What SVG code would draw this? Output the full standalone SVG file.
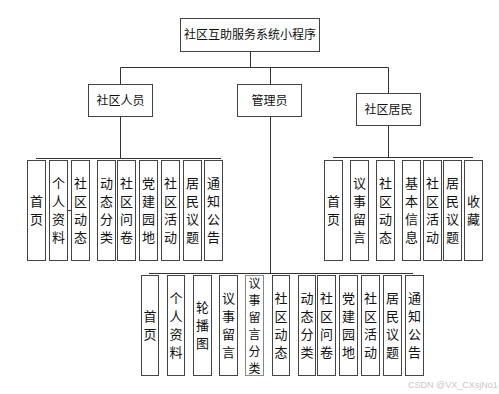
<svg xmlns="http://www.w3.org/2000/svg" width="499" height="394" viewBox="0 0 499 394">
<style>
.bx{fill:#fff;stroke:#444;stroke-width:1}
.ln{fill:none;stroke:#333;stroke-width:1}
.t{font-family:"Noto Sans CJK SC","Liberation Sans",sans-serif;font-size:12px;fill:#111;text-anchor:middle}
.v{font-family:"Noto Sans CJK SC","Liberation Sans",sans-serif;font-size:13px;fill:#111;text-anchor:middle}
.vs{font-family:"Noto Sans CJK SC","Liberation Sans",sans-serif;font-size:12px;fill:#111;text-anchor:middle}
.wm{font-family:"Liberation Sans",sans-serif;font-size:9px;fill:#c8c8c8}
</style>
<rect width="499" height="394" fill="#fff"/>
<g id="connectors">
<path class="ln" d="M250.5 51V67.5M120.5 67.5H388.5M120.5 67.5V84M270.5 67.5V84M388.5 67.5V93"/>
<path class="ln" d="M120.5 116V158.5M36 158.5H221"/>
<path class="ln" d="M388.5 125V157.5M333 157.5H473"/>
<path class="ln" d="M270.5 116V273.5M149 273.5H413"/>
<path class="ln" d="M67 210.5H71"/>
</g>
<g id="root"><rect class="bx" x="180.5" y="18.5" width="139" height="33"/><text class="t" x="250" y="39">社区互助服务系统小程序</text></g>
<g id="staff"><rect class="bx" x="88.5" y="84.5" width="64" height="32"/><text class="t" x="120.5" y="105">社区人员</text></g>
<g id="admin"><rect class="bx" x="237.5" y="84.5" width="64" height="32"/><text class="t" x="269.5" y="105">管理员</text></g>
<g id="resident"><rect class="bx" x="356.5" y="93.5" width="64" height="32"/><text class="t" x="388.5" y="114">社区居民</text></g>

<g id="s1"><rect class="bx" x="27.5" y="160.5" width="18" height="100"/><text class="v"><tspan x="36.5" y="206">首</tspan><tspan x="36.5" y="224">页</tspan></text></g>
<g id="s2"><rect class="bx" x="49.5" y="160.5" width="18" height="100"/><text class="v"><tspan x="58.5" y="188">个</tspan><tspan x="58.5" y="206">人</tspan><tspan x="58.5" y="224">资</tspan><tspan x="58.5" y="242">料</tspan></text></g>
<g id="s3"><rect class="bx" x="71.5" y="160.5" width="18" height="100"/><text class="v"><tspan x="80.5" y="188">社</tspan><tspan x="80.5" y="206">区</tspan><tspan x="80.5" y="224">动</tspan><tspan x="80.5" y="242">态</tspan></text></g>
<g id="s4"><rect class="bx" x="97.5" y="160.5" width="18" height="100"/><text class="v"><tspan x="106.5" y="188">动</tspan><tspan x="106.5" y="206">态</tspan><tspan x="106.5" y="224">分</tspan><tspan x="106.5" y="242">类</tspan></text></g>
<g id="s5"><rect class="bx" x="117.5" y="160.5" width="18" height="100"/><text class="v"><tspan x="126.5" y="188">社</tspan><tspan x="126.5" y="206">区</tspan><tspan x="126.5" y="224">问</tspan><tspan x="126.5" y="242">卷</tspan></text></g>
<g id="s6"><rect class="bx" x="139.5" y="160.5" width="18" height="100"/><text class="v"><tspan x="148.5" y="188">党</tspan><tspan x="148.5" y="206">建</tspan><tspan x="148.5" y="224">园</tspan><tspan x="148.5" y="242">地</tspan></text></g>
<g id="s7"><rect class="bx" x="161.5" y="160.5" width="18" height="100"/><text class="v"><tspan x="170.5" y="188">社</tspan><tspan x="170.5" y="206">区</tspan><tspan x="170.5" y="224">活</tspan><tspan x="170.5" y="242">动</tspan></text></g>
<g id="s8"><rect class="bx" x="183.5" y="160.5" width="18" height="100"/><text class="v"><tspan x="192.5" y="188">居</tspan><tspan x="192.5" y="206">民</tspan><tspan x="192.5" y="224">议</tspan><tspan x="192.5" y="242">题</tspan></text></g>
<g id="s9"><rect class="bx" x="204.5" y="160.5" width="18" height="100"/><text class="v"><tspan x="213.5" y="188">通</tspan><tspan x="213.5" y="206">知</tspan><tspan x="213.5" y="224">公</tspan><tspan x="213.5" y="242">告</tspan></text></g>

<g id="r1"><rect class="bx" x="324.5" y="160.5" width="18" height="100"/><text class="v"><tspan x="333.5" y="206">首</tspan><tspan x="333.5" y="224">页</tspan></text></g>
<g id="r2"><rect class="bx" x="350.5" y="160.5" width="18" height="100"/><text class="v"><tspan x="359.5" y="188">议</tspan><tspan x="359.5" y="206">事</tspan><tspan x="359.5" y="224">留</tspan><tspan x="359.5" y="242">言</tspan></text></g>
<g id="r3"><rect class="bx" x="376.5" y="160.5" width="18" height="100"/><text class="v"><tspan x="385.5" y="188">社</tspan><tspan x="385.5" y="206">区</tspan><tspan x="385.5" y="224">动</tspan><tspan x="385.5" y="242">态</tspan></text></g>
<g id="r4"><rect class="bx" x="402.5" y="160.5" width="18" height="100"/><text class="v"><tspan x="411.5" y="188">基</tspan><tspan x="411.5" y="206">本</tspan><tspan x="411.5" y="224">信</tspan><tspan x="411.5" y="242">息</tspan></text></g>
<g id="r5"><rect class="bx" x="423.5" y="160.5" width="18" height="100"/><text class="v"><tspan x="432.5" y="188">社</tspan><tspan x="432.5" y="206">区</tspan><tspan x="432.5" y="224">活</tspan><tspan x="432.5" y="242">动</tspan></text></g>
<g id="r6"><rect class="bx" x="443.5" y="160.5" width="18" height="100"/><text class="v"><tspan x="452.5" y="188">居</tspan><tspan x="452.5" y="206">民</tspan><tspan x="452.5" y="224">议</tspan><tspan x="452.5" y="242">题</tspan></text></g>
<g id="r7"><rect class="bx" x="464.5" y="160.5" width="18" height="100"/><text class="v"><tspan x="473.5" y="206">收</tspan><tspan x="473.5" y="224">藏</tspan></text></g>

<g id="a1"><rect class="bx" x="141.5" y="275.5" width="17" height="100"/><text class="v"><tspan x="150" y="321">首</tspan><tspan x="150" y="339">页</tspan></text></g>
<g id="a2"><rect class="bx" x="167.5" y="275.5" width="17" height="100"/><text class="v"><tspan x="176" y="303">个</tspan><tspan x="176" y="321">人</tspan><tspan x="176" y="339">资</tspan><tspan x="176" y="357">料</tspan></text></g>
<g id="a3"><rect class="bx" x="193.5" y="275.5" width="18" height="100"/><text class="v"><tspan x="202.5" y="312">轮</tspan><tspan x="202.5" y="330">播</tspan><tspan x="202.5" y="348">图</tspan></text></g>
<g id="a4"><rect class="bx" x="219.5" y="275.5" width="18" height="100"/><text class="v"><tspan x="228.5" y="303">议</tspan><tspan x="228.5" y="321">事</tspan><tspan x="228.5" y="339">留</tspan><tspan x="228.5" y="357">言</tspan></text></g>
<g id="a5"><rect class="bx" x="245.5" y="275.5" width="18" height="100" style="stroke:#888"/><text class="vs"><tspan x="254.5" y="287.5">议</tspan><tspan x="254.5" y="304.5">事</tspan><tspan x="254.5" y="321.5">留</tspan><tspan x="254.5" y="338.5">言</tspan><tspan x="254.5" y="355.5">分</tspan><tspan x="254.5" y="372.5">类</tspan></text></g>
<g id="a6"><rect class="bx" x="272.5" y="275.5" width="17" height="100"/><text class="v"><tspan x="281" y="303">社</tspan><tspan x="281" y="321">区</tspan><tspan x="281" y="339">动</tspan><tspan x="281" y="357">态</tspan></text></g>
<g id="a7"><rect class="bx" x="298.5" y="275.5" width="17" height="100"/><text class="v"><tspan x="307" y="303">动</tspan><tspan x="307" y="321">态</tspan><tspan x="307" y="339">分</tspan><tspan x="307" y="357">类</tspan></text></g>
<g id="a8"><rect class="bx" x="317.5" y="275.5" width="18" height="100"/><text class="v"><tspan x="326.5" y="303">社</tspan><tspan x="326.5" y="321">区</tspan><tspan x="326.5" y="339">问</tspan><tspan x="326.5" y="357">卷</tspan></text></g>
<g id="a9"><rect class="bx" x="339.5" y="275.5" width="18" height="100"/><text class="v"><tspan x="348.5" y="303">党</tspan><tspan x="348.5" y="321">建</tspan><tspan x="348.5" y="339">园</tspan><tspan x="348.5" y="357">地</tspan></text></g>
<g id="a10"><rect class="bx" x="361.5" y="275.5" width="18" height="100"/><text class="v"><tspan x="370.5" y="303">社</tspan><tspan x="370.5" y="321">区</tspan><tspan x="370.5" y="339">活</tspan><tspan x="370.5" y="357">动</tspan></text></g>
<g id="a11"><rect class="bx" x="383.5" y="275.5" width="18" height="100"/><text class="v"><tspan x="392.5" y="303">居</tspan><tspan x="392.5" y="321">民</tspan><tspan x="392.5" y="339">议</tspan><tspan x="392.5" y="357">题</tspan></text></g>
<g id="a12"><rect class="bx" x="405.5" y="275.5" width="18" height="100"/><text class="v"><tspan x="414.5" y="303">通</tspan><tspan x="414.5" y="321">知</tspan><tspan x="414.5" y="339">公</tspan><tspan x="414.5" y="357">告</tspan></text></g>

<text class="wm" x="408" y="388">CSDN @VX_CXsjNo1</text>
</svg>
